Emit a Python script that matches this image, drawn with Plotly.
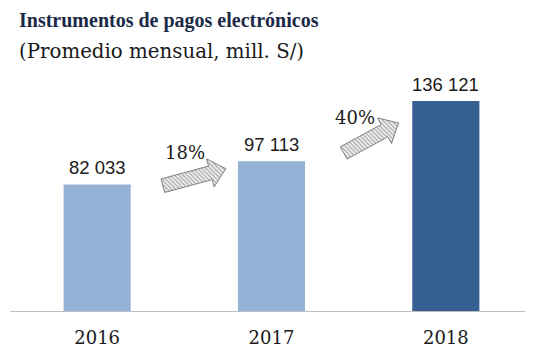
import math
import plotly.graph_objects as go

years = ["2016", "2017", "2018"]
values = [82033, 97113, 136121]
bar_colors = ["#95b3d7", "#95b3d7", "#376092"]
growth_labels = ["18%", "40%"]

OFF = 8  # browser default body margin
W, H = 533 - OFF, 357 - OFF
L, R, T, B = 10 - OFF, 0, 70 - OFF, 46
plot_w = W - L - R
plot_h = H - T - B
x_range = [-0.5, 2.5]
y_max = 156200
y_range = [0, y_max]

px_per_x = plot_w / (x_range[1] - x_range[0])
px_per_y = plot_h / (y_range[1] - y_range[0])


def to_px(x, y):
    return L + (x - x_range[0]) * px_per_x, T + plot_h - (y - y_range[0]) * px_per_y


def to_data(px, py):
    return (px - L) / px_per_x + x_range[0], (T + plot_h - py) / px_per_y + y_range[0]


def arrow_poly(tail, tip, body=7, head=14.5, head_len=16):
    (x0, y0), (x1, y1) = to_px(*tail), to_px(*tip)
    dx, dy = x1 - x0, y1 - y0
    ln = math.hypot(dx, dy)
    ux, uy = dx / ln, dy / ln
    nx, ny = -uy, ux
    bx, by = x1 - ux * head_len, y1 - uy * head_len
    pts = [
        (x0 + nx * body, y0 + ny * body),
        (bx + nx * body, by + ny * body),
        (bx + nx * head, by + ny * head),
        (x1, y1),
        (bx - nx * head, by - ny * head),
        (bx - nx * body, by - ny * body),
        (x0 - nx * body, y0 - ny * body),
        (x0 + nx * body, y0 + ny * body),
    ]
    xs, ys = zip(*[to_data(px, py) for px, py in pts])
    return list(xs), list(ys)


fig = go.Figure()
fig.add_trace(go.Bar(
    x=list(range(len(years))), y=values, width=0.385,
    marker=dict(color=bar_colors, line=dict(width=0)),
    hoverinfo="skip",
))
for i, v in enumerate(values):
    fig.add_annotation(x=i, y=v, text=f"{v:,}".replace(",", " "), showarrow=False,
                       yanchor="bottom", yshift=4,
                       font=dict(family="Liberation Sans", size=18.5, color="#1a1a1a"))

# growth arrows between consecutive bars
arrow_specs = [
    ((0 + 0.377, values[0] * 0.99), (1 - 0.262, values[1] * 0.95)),
    ((1 + 0.414, values[1] * 1.055), (2 - 0.271, values[2] * 0.895)),
]
label_pos = [
    (0 + 0.506, values[0] * 1.25),
    (1 + 0.478, values[1] * 1.29),
]
for (tail, tip), lab, lp in zip(arrow_specs, growth_labels, label_pos):
    xs, ys = arrow_poly(tail, tip)
    fig.add_trace(go.Scatter(
        x=xs, y=ys, mode="lines", fill="toself",
        line=dict(color="#808080", width=1),
        fillcolor="white",
        fillpattern=dict(shape="\\", fgcolor="#6e6e6e", bgcolor="white", size=3, solidity=0.6),
        hoverinfo="skip", showlegend=False,
    ))
    fig.add_annotation(x=lp[0], y=lp[1], text=lab, showarrow=False,
                       font=dict(family="DejaVu Serif", size=18, color="#1a1a1a"))

fig.add_annotation(xref="paper", yref="paper", x=(17 - OFF - L) / plot_w, y=1 + (T - (20 - OFF)) / plot_h,
                   xanchor="left", yanchor="middle", showarrow=False,
                   text="<b>Instrumentos de pagos electrónicos</b>",
                   font=dict(family="Liberation Serif", size=20, color="#1b2a47"))
fig.add_annotation(xref="paper", yref="paper", x=(17 - OFF - L) / plot_w, y=1 + (T - (51 - OFF)) / plot_h,
                   xanchor="left", yanchor="middle", showarrow=False,
                   text="(Promedio mensual, mill. S/)",
                   font=dict(family="DejaVu Serif", size=19.8, color="#1a1a1a"))

fig.update_layout(
    width=W, height=H, margin=dict(l=L, r=R, t=T, b=B, autoexpand=False),
    paper_bgcolor="white", plot_bgcolor="white", showlegend=False,
    xaxis=dict(range=x_range, tickmode="array", tickvals=list(range(len(years))), ticktext=years,
               showline=True, linecolor="#bfbfbf", linewidth=1, showgrid=False, zeroline=False,
               ticks="outside", ticklen=10, tickcolor="rgba(0,0,0,0)", automargin=False,
               tickfont=dict(family="DejaVu Serif", size=18, color="#1a1a1a"), fixedrange=True),
    yaxis=dict(range=y_range, visible=False, showgrid=False, zeroline=False, fixedrange=True,
               automargin=False),
)
fig.write_html("out.html")
